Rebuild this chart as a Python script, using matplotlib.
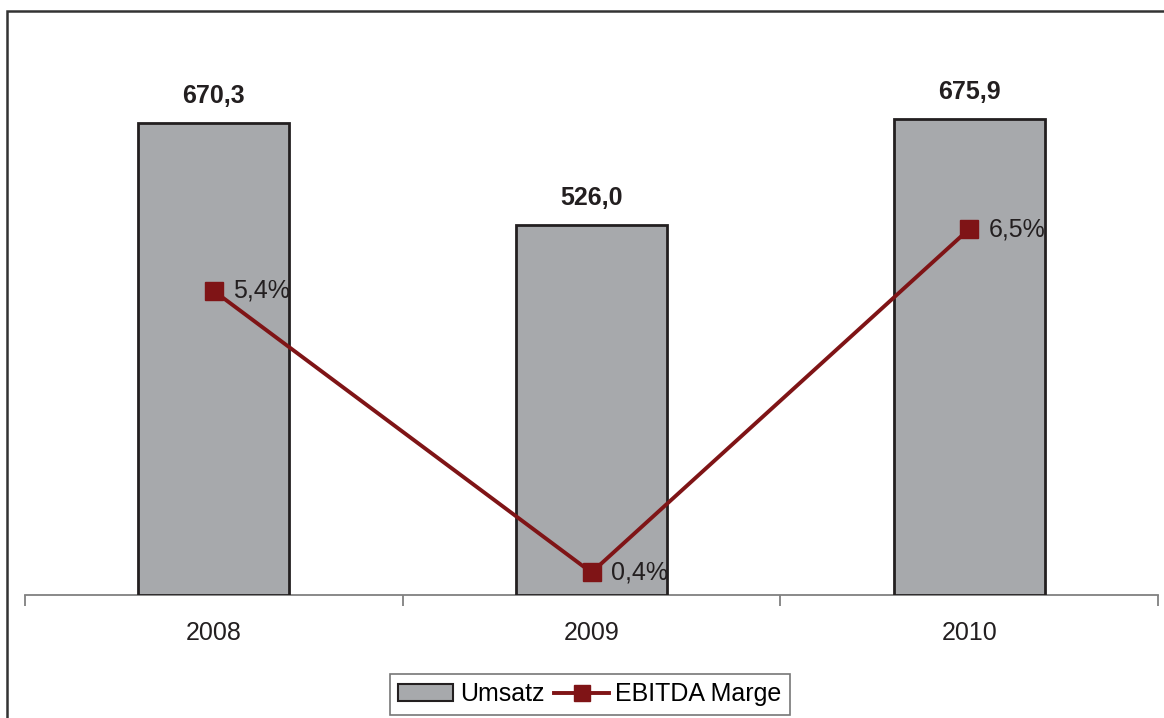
import matplotlib
matplotlib.use("Agg")
import matplotlib.pyplot as plt
from matplotlib.patches import Rectangle, Patch
from matplotlib.lines import Line2D

plt.rcParams['font.family'] = ['Liberation Sans', 'DejaVu Sans']

# data
years = ["2008", "2009", "2010"]
umsatz = [670.3, 526.0, 675.9]
ebitda_marge = [5.4, 0.4, 6.5]

bar_color = "#A7A9AC"
bar_edge = "#231F20"
line_color = "#7F1416"

fig = plt.figure(figsize=(11.64, 7.18), dpi=100)
ax = fig.add_axes([25 / 1164, 1 - 595 / 718, (1158 - 25) / 1164, (595 - 32) / 718])
ax2 = ax.twinx()

x = list(range(len(years)))
ax.bar(x, umsatz, width=0.4, color=bar_color, edgecolor=bar_edge, linewidth=2, zorder=2)
ax.set_xlim(-0.5, 2.5)
ax.set_ylim(0, 800)

for xi, v in zip(x, umsatz):
    ax.annotate(f"{v:.1f}".replace(".", ","), (xi, v), xytext=(0, 11), textcoords="offset points",
                ha="center", va="bottom", fontsize=18, fontweight="bold", color="#231F20")

ax2.plot(x, ebitda_marge, color=line_color, linewidth=2.8, marker="s", markersize=13,
         markerfacecolor=line_color, markeredgecolor=line_color, zorder=3)
ax2.set_ylim(0, 10)
for xi, v in zip(x, ebitda_marge):
    ax2.annotate(f"{v:.1f}%".replace(".", ","), (xi, v), xytext=(14, 0), textcoords="offset points",
                 ha="left", va="center", fontsize=18, color="#231F20")

# axes styling
for a in (ax, ax2):
    for side in ("top", "left", "right"):
        a.spines[side].set_visible(False)
    a.set_yticks([])
ax2.spines["bottom"].set_visible(False)
ax.spines["bottom"].set_color("#808080")
ax.spines["bottom"].set_linewidth(1.3)
ax.spines["bottom"].set_zorder(1)
ax.set_xticks(x)
ax.set_xticklabels(years, fontsize=18, color="#231F20")
ax.tick_params(axis="x", which="major", length=0, pad=19)
ax.set_xticks([-0.5, 0.5, 1.5, 2.5], minor=True)
ax.tick_params(axis="x", which="minor", length=8, width=1.3, color="#808080")

# legend
handles = [Patch(facecolor=bar_color, edgecolor=bar_edge, linewidth=1.5),
           Line2D([0], [0], color=line_color, linewidth=2.8, marker="s", markersize=12)]
leg = fig.legend(handles, ["Umsatz", "EBITDA Marge"], loc="upper center",
                 bbox_to_anchor=(590 / 1164, 1 - 661 / 718), ncol=2, fontsize=18,
                 frameon=True, fancybox=False, handlelength=2.2, handletextpad=0.25,
                 columnspacing=0.4, borderpad=0.35)
leg.get_frame().set_edgecolor("#555555")
leg.get_frame().set_linewidth(1.2)

# outer frame
fig.patches.append(Rectangle((7 / 1164, -0.1), 1.2, 1 - 11 / 718 + 0.1, transform=fig.transFigure,
                             fill=False, edgecolor="#333333", linewidth=1.8))

fig.savefig("out.png", dpi=100)
